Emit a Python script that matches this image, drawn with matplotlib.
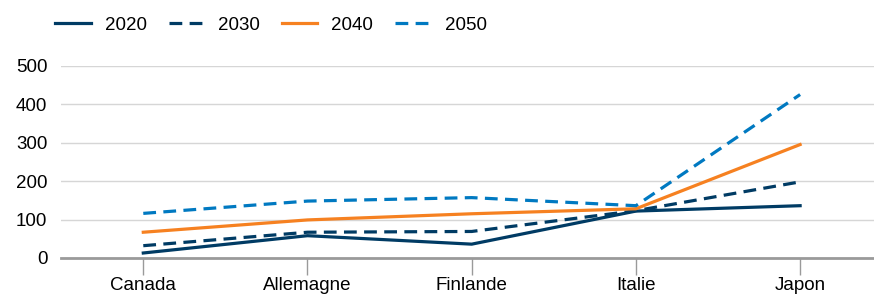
import matplotlib.pyplot as plt
import numpy as np

plt.rcParams['font.family'] = ['Liberation Sans', 'DejaVu Sans']

countries = ['Canada', 'Allemagne', 'Finlande', 'Italie', 'Japon']
v2020 = [13, 58, 36, 122, 136]
v2030 = [32, 67, 69, 123, 198]
v2040 = [67, 99, 115, 128, 295]
v2050 = [116, 148, 157, 136, 425]

navy = '#003b64'
orange = '#f68121'
blue = '#0079c1'

fig = plt.figure(figsize=(8.74, 3.0), dpi=100)
ax = fig.add_axes([0.07, 0.14, 0.93, 0.641])

x = np.arange(len(countries))
dash = (0, (4, 2.3))
l1, = ax.plot(x, v2020, color=navy, lw=2.3, label='2020')
l2, = ax.plot(x, v2030, color=navy, lw=2.3, ls=dash, label='2030')
l3, = ax.plot(x, v2040, color=orange, lw=2.3, label='2040')
l4, = ax.plot(x, v2050, color=blue, lw=2.3, ls=dash, label='2050')

ax.set_xlim(-0.5, 4.45)
ax.set_ylim(0, 500)
ax.set_yticks([0, 100, 200, 300, 400, 500])
ax.set_xticks(x)
ax.set_xticklabels(countries)
ax.grid(axis='y', color='#d6d6d6', lw=1)
ax.set_axisbelow(True)
for s in ['top', 'right', 'left']:
    ax.spines[s].set_visible(False)
ax.spines['bottom'].set_color('#9a9a9a')
ax.spines['bottom'].set_linewidth(2)
ax.tick_params(axis='y', length=0, labelsize=13.5, pad=10)
ax.tick_params(axis='x', length=12, width=1, color='#9a9a9a', labelsize=13.5, pad=2)

fig.legend(handles=[l1, l2, l3, l4], loc='upper left', bbox_to_anchor=(0.044, 1.0),
           ncol=4, frameon=False, fontsize=13.5, handlelength=1.9,
           columnspacing=1.15, handletextpad=0.75)

fig.savefig('out.png', dpi=100)
